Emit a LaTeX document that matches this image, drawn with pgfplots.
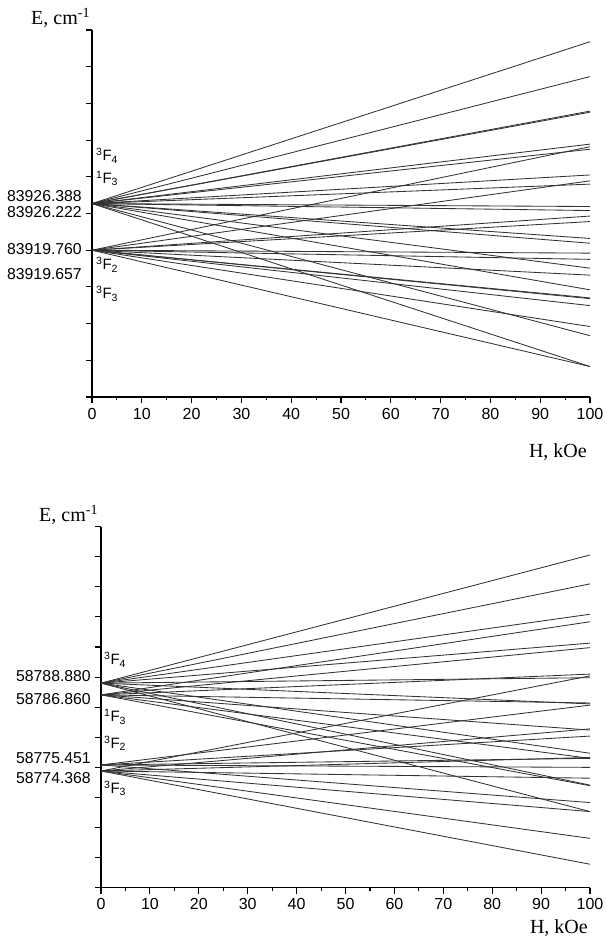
\documentclass[border=0pt]{standalone}
\usepackage{fontspec}
\setmainfont{Liberation Sans}
\newfontfamily\tnr{Liberation Serif}
\usepackage{pgfplots}
\pgfplotsset{compat=1.18}

\pgfplotsset{
  zeeman/.style={
    scale only axis,
    anchor=south west,
    axis lines=left,
    axis line style={black, line width=1.3pt, -},
    tick style={black, line width=1.1pt},
    tick align=outside,
    major tick length=6pt,
    minor tick length=3.5pt,
    xmin=0, xmax=100,
    xtick={0,10,...,100},
    minor x tick num=1,
    yticklabels={},
    tick label style={font=\fontsize{16}{18}\selectfont},
    xticklabel style={yshift=-1.5pt},
    /pgf/number format/assume math mode=true,
  },
  lvl/.style={black!80, line width=0.85pt},
}
\newcommand{\lab}{\fontsize{15.8}{18}\selectfont}
\newcommand{\trm}{\fontsize{15}{17}\selectfont}
\newcommand{\ttl}{\fontsize{20}{24}\selectfont\tnr}

\begin{document}
\begin{tikzpicture}[x=1pt, y=1pt]
\useasboundingbox (0,0) rectangle (607,937);

% upper panel: 3F4 / 1F3 fan and 3F2 / 3F3 fan
\begin{axis}[zeeman, at={(92pt,540pt)}, width=498pt, height=367pt,
  ymin=0, ymax=10, ytick={0,...,10}]
\pgfplotsinvokeforeach{9.68,8.73,7.79,7.76,6.89,6.75,6.05,5.80,5.19,5.08,4.32,4.19,3.51,2.92,1.67,0.83}{
  \addplot[lvl] coordinates {(0,5.27) (100,#1)};}
\pgfplotsinvokeforeach{6.82,5.89,4.93,4.78,3.92,3.75,3.32,2.70,2.68,2.49,1.92,0.83}{
  \addplot[lvl] coordinates {(0,4.00) (100,#1)};}
\end{axis}

% lower panel: four separate origins
\begin{axis}[zeeman, at={(101pt,49.3pt)}, width=489pt, height=361pt,
  ymin=0, ymax=12, ytick={0,...,12}]
\pgfplotsinvokeforeach{11.06,10.10,9.09,8.13,6.98,6.11,4.47,3.41,2.53}{
  \addplot[lvl] coordinates {(0,6.80) (100,#1)};}
\pgfplotsinvokeforeach{8.84,7.98,7.10,6.14,5.24,4.30,3.39}{
  \addplot[lvl] coordinates {(0,6.41) (100,#1)};}
\pgfplotsinvokeforeach{6.07,5.04,4.30,4.00,2.83}{
  \addplot[lvl] coordinates {(0,4.08) (100,#1)};}
\pgfplotsinvokeforeach{7.04,5.28,4.33,3.64,2.53,1.64,0.78}{
  \addplot[lvl] coordinates {(0,3.88) (100,#1)};}
\end{axis}

% axis titles
\node[anchor=base west, inner sep=0] at (31,912) {\ttl E, cm\textsuperscript{-1}};
\node[anchor=base east, inner sep=0] at (587,479) {\ttl H, kOe};
\node[anchor=base west, inner sep=0] at (39,415) {\ttl E, cm\textsuperscript{-1}};
\node[anchor=base east, inner sep=0] at (588,3) {\ttl H, kOe};

% level energies
\begin{scope}[every node/.style={anchor=base east, inner sep=0}]
\node at (82,735.3) {\lab 83926.388};
\node at (82,719)   {\lab 83926.222};
\node at (82,682)   {\lab 83919.760};
\node at (82,657)   {\lab 83919.657};
\node at (91,255.3) {\lab 58788.880};
\node at (91,232)   {\lab 58786.860};
\node at (91,173.7) {\lab 58775.451};
\node at (91,153.7) {\lab 58774.368};
\end{scope}

% term symbols
\begin{scope}[every node/.style={anchor=base west, inner sep=0}]
\node at (96,776)   {\trm\textsuperscript{3}F\textsubscript{4}};
\node at (96,753.7) {\trm\textsuperscript{1}F\textsubscript{3}};
\node at (96,667)   {\trm\textsuperscript{3}F\textsubscript{2}};
\node at (96,638)   {\trm\textsuperscript{3}F\textsubscript{3}};
\node at (104,272)   {\trm\textsuperscript{3}F\textsubscript{4}};
\node at (104,215.3) {\trm\textsuperscript{1}F\textsubscript{3}};
\node at (104,188.7) {\trm\textsuperscript{3}F\textsubscript{2}};
\node at (104,143.7) {\trm\textsuperscript{3}F\textsubscript{3}};
\end{scope}
\end{tikzpicture}
\end{document}
